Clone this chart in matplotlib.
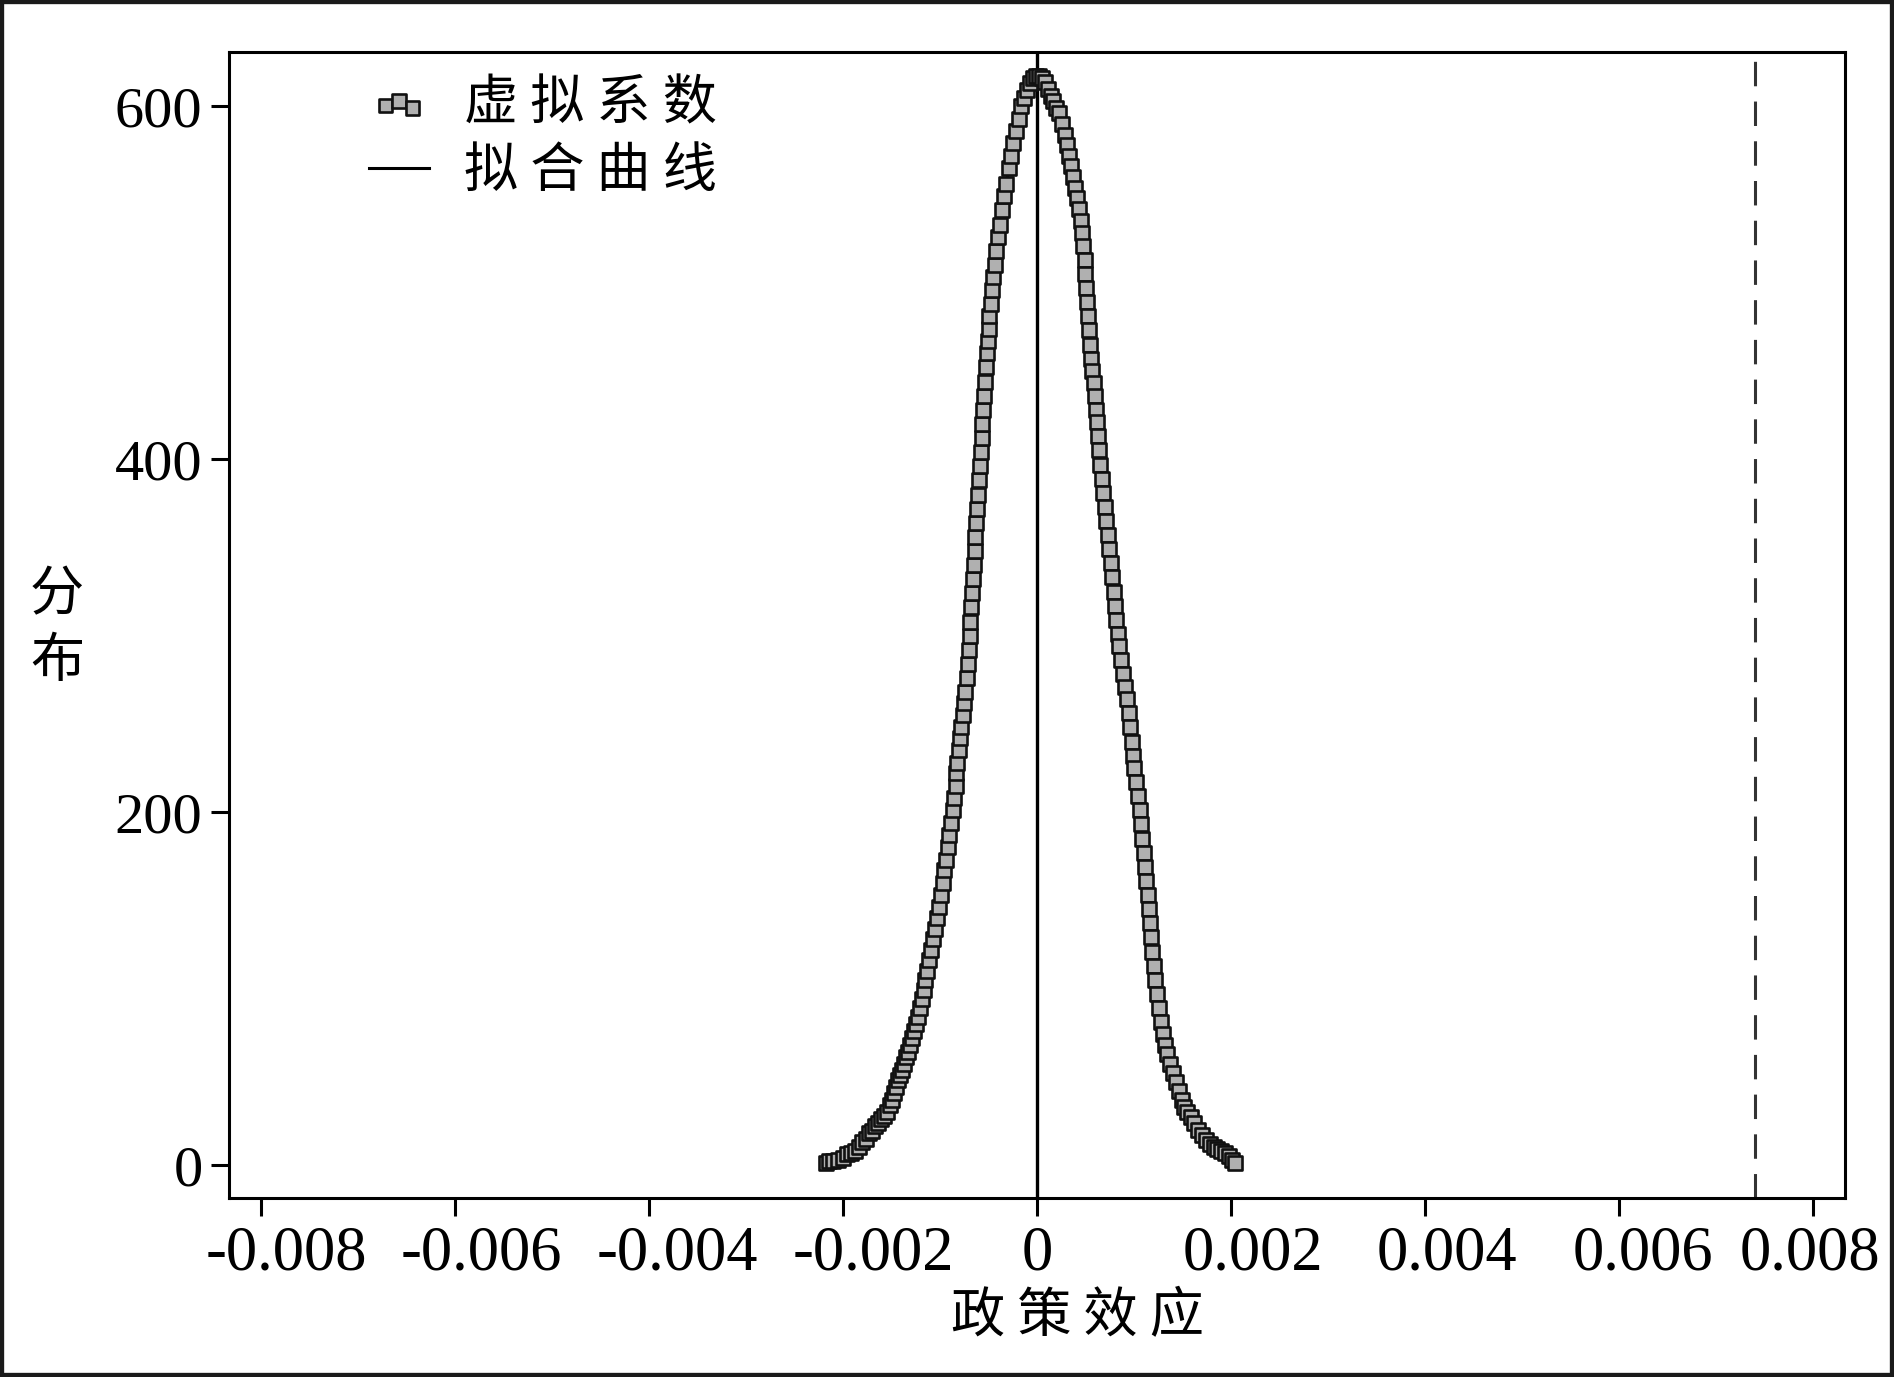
import matplotlib
matplotlib.use("Agg")
import matplotlib.pyplot as plt
import matplotlib.transforms as mtransforms
import numpy as np
from matplotlib.patches import Rectangle

# ---------------- data (x in units of 0.001) ----------------
fit_x_milli = [-2.18, -2.00, -1.85, -1.70, -1.59, -1.50, -1.42, -1.35, -1.28, -1.21,
               -1.15, -1.08, -1.01, -0.96, -0.91, -0.85, -0.82, -0.79, -0.74, -0.71,
               -0.69, -0.67, -0.65, -0.63, -0.61, -0.58, -0.56, -0.54, -0.51, -0.48,
               -0.44, -0.41, -0.36, -0.29, -0.22, -0.12, -0.05, 0.00, 0.09, 0.23,
               0.33, 0.40, 0.44, 0.47, 0.50, 0.53, 0.56, 0.59, 0.62, 0.64,
               0.68, 0.71, 0.76, 0.80, 0.81, 0.86, 0.93, 0.97, 1.00, 1.05,
               1.09, 1.12, 1.16, 1.19, 1.23, 1.29, 1.37, 1.47, 1.60, 1.74,
               1.91, 2.05]
fit_y = [1, 4, 9, 17, 25, 32, 45, 58, 72, 86,
         106, 127, 147, 167, 187, 208, 228, 248, 268, 289,
         310, 330, 345, 363, 383, 403, 424, 444, 464, 484,
         505, 525, 541, 565, 586, 606, 614, 617, 614, 596,
         576, 555, 541, 525, 505, 484, 464, 444, 424, 403,
         383, 363, 343, 322, 309, 289, 268, 248, 228, 208,
         187, 167, 147, 127, 106, 86, 66, 46, 31, 19,
         11, 1]

sim_x_milli = [
    -2.18, -2.14, -2.10, -2.05, -2.00, -1.96, -1.92, -1.88, -1.84, -1.80,
    -1.76, -1.73, -1.70, -1.67, -1.64, -1.61, -1.58, -1.55, -1.52, -1.49,
    -1.47, -1.45, -1.43, -1.41, -1.39, -1.37, -1.35, -1.33, -1.31, -1.29,
    -1.27, -1.25, -1.23, -1.21, -1.19, -1.17, -1.15, -1.13, -1.11, -1.09,
    -1.07, -1.05, -1.03, -1.01, -0.99, -0.97, -0.96, -0.94, -0.92, -0.91,
    -0.89, -0.87, -0.86, -0.84, -0.83, -0.82, -0.80, -0.79, -0.78, -0.76,
    -0.75, -0.74, -0.72, -0.71, -0.70, -0.69, -0.69, -0.68, -0.67, -0.66,
    -0.65, -0.64, -0.64, -0.63, -0.62, -0.61, -0.60, -0.59, -0.58, -0.57,
    -0.57, -0.56, -0.55, -0.54, -0.53, -0.52, -0.51, -0.50, -0.49, -0.47,
    -0.46, -0.45, -0.43, -0.42, -0.40, -0.38, -0.36, -0.34, -0.32, -0.29,
    -0.27, -0.25, -0.22, -0.19, -0.16, -0.13, -0.10, -0.07, -0.04, -0.01,
    0.02, 0.05, 0.08, 0.11, 0.14, 0.17, 0.20, 0.23, 0.26, 0.29,
    0.31, 0.33, 0.35, 0.37, 0.39, 0.41, 0.43, 0.45, 0.46, 0.47,
    0.49, 0.50, 0.51, 0.52, 0.53, 0.54, 0.55, 0.56, 0.57, 0.59,
    0.60, 0.61, 0.62, 0.63, 0.64, 0.65, 0.67, 0.68, 0.70, 0.71,
    0.73, 0.74, 0.76, 0.77, 0.79, 0.80, 0.81, 0.83, 0.85, 0.87,
    0.89, 0.91, 0.93, 0.95, 0.96, 0.98, 0.99, 1.00, 1.02, 1.04,
    1.06, 1.07, 1.08, 1.10, 1.11, 1.12, 1.14, 1.15, 1.16, 1.18,
    1.19, 1.21, 1.22, 1.24, 1.26, 1.28, 1.30, 1.32, 1.34, 1.37,
    1.40, 1.43, 1.46, 1.49, 1.52, 1.55, 1.59, 1.62, 1.66, 1.70,
    1.74, 1.78, 1.82, 1.86, 1.90, 1.94, 1.98, 2.01, 2.04]
sim_y = [
    1, 2, 2, 3, 4, 6, 7, 8, 10, 13,
    15, 18, 19, 22, 24, 26, 28, 30, 34, 37,
    41, 44, 48, 51, 54, 57, 61, 64, 68, 72,
    76, 80, 84, 89, 94, 99, 105, 110, 116, 122,
    128, 134, 140, 146, 153, 160, 167, 173, 180, 187,
    194, 201, 208, 215, 222, 228, 235, 242, 248, 255,
    262, 268, 276, 284, 292, 300, 308, 316, 324, 332,
    340, 348, 356, 364, 372, 380, 388, 396, 404, 412,
    420, 428, 436, 444, 452, 460, 467, 474, 481, 488,
    496, 503, 510, 518, 526, 533, 541, 549, 556, 565,
    572, 579, 586, 593, 600, 605, 609, 613, 616, 617,
    617, 616, 614, 610, 606, 603, 599, 596, 590, 584,
    578, 572, 566, 560, 554, 548, 542, 535, 528, 521,
    513, 505, 497, 489, 481, 473, 465, 457, 450, 443,
    436, 428, 421, 413, 405, 397, 389, 381, 373, 365,
    357, 349, 341, 333, 325, 317, 309, 301, 294, 286,
    278, 271, 264, 256, 248, 240, 232, 225, 217, 209,
    201, 193, 185, 177, 169, 161, 153, 145, 137, 129,
    121, 113, 105, 97, 89, 81, 74, 68, 63, 57,
    52, 47, 42, 37, 33, 30, 27, 24, 20, 17,
    14, 12, 10, 9, 8, 7, 5, 3, 1]

true_effect = 0.0074
x_ticks = [-0.008, -0.006, -0.004, -0.002, 0.0, 0.002, 0.004, 0.006, 0.008]
x_tick_labels = ["-0.008", "-0.006", "-0.004", "-0.002", "0", "0.002", "0.004", "0.006", "0.008"]
y_ticks = [0, 200, 400, 600]
y_tick_labels = ["0", "200", "400", "600"]

# ---------------- plotting ----------------
plt.rcParams['axes.unicode_minus'] = False
SERIF = ['Liberation Serif', 'DejaVu Serif']
CJK = ['Noto Sans CJK SC', 'DejaVu Sans']

W, H = 1894, 1377
fig = plt.figure(figsize=(W / 100, H / 100), dpi=100)
ax = fig.add_axes([229 / W, 1 - 1198 / H, (1845 - 229) / W, (1198 - 52) / H])

fx = np.array(fit_x_milli) * 1e-3
sx = np.array(sim_x_milli) * 1e-3

ax.axvline(0, color='black', lw=2.4, zorder=1)
ax.axvline(true_effect, color='#333333', lw=2.2, dashes=(8, 5), zorder=1)
line, = ax.plot(fx, fit_y, color='black', lw=2.2, zorder=2, label='拟 合 曲 线')
sc = ax.scatter(sx, sim_y, marker='s', s=95, facecolors='#b0b0b0', edgecolors='#111111',
                linewidths=1.9, zorder=3, label='虚 拟 系 数')

ax.set_xlim(-0.00833, 0.00833)
ax.set_ylim(-18.7, 630.8)
ax.set_xticks(x_ticks)
ax.set_xticklabels(x_tick_labels)
ax.set_yticks(y_ticks)
ax.set_yticklabels(y_tick_labels)
ax.tick_params(axis='both', direction='out', length=13, width=2.2, color='black')
ax.tick_params(axis='x', pad=7)
ax.tick_params(axis='y', pad=6)

# label shifts (pixels) seen in the reference typesetting
x_label_shift_px = [25, 26, 28, 30, 0, 22, 22, 24, -3]
for lab, dx in zip(ax.get_xticklabels(), x_label_shift_px):
    lab.set_fontfamily(SERIF)
    lab.set_fontsize(45)
    lab.set_transform(lab.get_transform() +
                      mtransforms.ScaledTranslation(dx / 100, 0, fig.dpi_scale_trans))
for lab in ax.get_yticklabels():
    lab.set_fontfamily(SERIF)
    lab.set_fontsize(42)
for sp in ax.spines.values():
    sp.set_linewidth(2.2)
    sp.set_color('black')

leg = ax.legend(handles=[sc, line], loc='upper left', bbox_to_anchor=(0.07, 1.002),
                frameon=False, borderpad=0, scatterpoints=3, handlelength=1.1,
                handletextpad=0.65, labelspacing=0.22,
                prop={'family': CJK, 'size': 39})

fig.text(1077 / W, 1 - 1317 / H, '政 策 效 应', ha='center', va='center',
         family=CJK, fontsize=39)
fig.text(57 / W, 1 - 628 / H, '分\n布', ha='center', va='center',
         family=CJK, fontsize=39, linespacing=1.28)

fig.patches.append(Rectangle((0, 0), 1, 1, transform=fig.transFigure, fill=False,
                             lw=6, edgecolor='#1a1a1a', zorder=10))

fig.savefig('out.png', dpi=100, facecolor='white')
